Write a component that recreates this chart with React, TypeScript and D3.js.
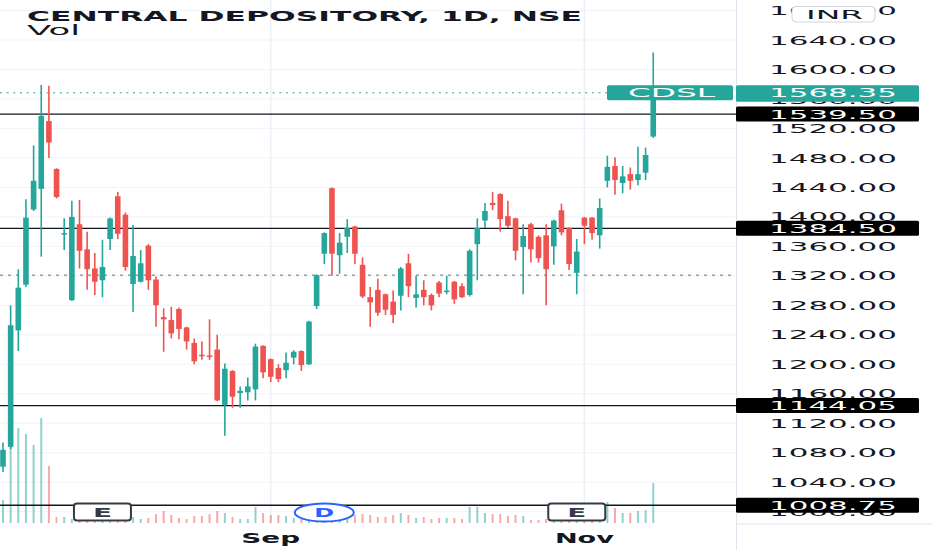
import React from "react";
import * as d3 from "d3";

const opens = [1061,1088,1246,1308,1410,1438,1530,1465,1376,1287,1390,1356,1330,1314,1370,1428,1403,1309,1312,1361,1315,1264,1260,1275,1250,1229,1213,1212,1220,1145,1191,1161,1162,1166,1225,1207,1195,1192,1209,1218,1200,1279,1350,1439,1348,1373,1387,1335,1291,1301,1295,1285,1293,1337,1290,1301,1294,1311,1298,1312,1306,1294,1363,1395,1419,1431,1401,1398,1359,1390,1373,1375,1360,1409,1385,1324,1399,1399,1375,1449,1469,1446,1458,1450,1460,1509];
const highs = [1094,1280,1329,1424,1497,1579,1578,1466,1398,1422,1423,1380,1351,1369,1399,1434,1406,1389,1355,1363,1319,1276,1278,1277,1251,1235,1231,1261,1240,1201,1192,1170,1182,1228,1226,1208,1200,1216,1219,1219,1259,1322,1379,1440,1378,1397,1388,1345,1305,1316,1296,1300,1332,1350,1320,1314,1296,1313,1320,1313,1310,1356,1398,1419,1434,1432,1422,1399,1390,1392,1375,1390,1396,1418,1386,1370,1400,1400,1425,1483,1481,1469,1467,1495,1494,1623];
const lows = [1054,1085,1218,1305,1408,1346,1480,1425,1355,1286,1330,1301,1294,1291,1355,1370,1327,1271,1311,1301,1251,1217,1235,1234,1220,1200,1206,1206,1150,1103,1141,1141,1151,1151,1181,1176,1176,1181,1200,1191,1199,1275,1336,1320,1323,1351,1336,1290,1251,1266,1267,1256,1273,1291,1277,1280,1273,1291,1295,1282,1290,1292,1314,1385,1409,1380,1385,1341,1295,1338,1338,1280,1335,1375,1328,1295,1363,1369,1357,1440,1430,1432,1437,1443,1450,1507];
const closes = [1084,1253,1304,1399,1449,1537,1501,1427,1378,1400,1354,1329,1312,1332,1398,1377,1332,1347,1337,1314,1280,1261,1242,1248,1231,1204,1211,1210,1151,1194,1156,1164,1170,1224,1189,1183,1180,1202,1217,1199,1258,1321,1378,1350,1365,1385,1350,1292,1284,1270,1274,1267,1330,1306,1295,1291,1280,1296,1300,1288,1291,1354,1385,1408,1416,1397,1388,1354,1374,1356,1344,1329,1395,1379,1336,1353,1388,1378,1412,1468,1450,1455,1449,1458,1484,1568.35];
const volumes = [23,95,95,89,78,105,57,6,6,4,3,3,4,3,3,4,3,6,4,5,9,12,8,5,4,7,7,9,12,10,6,4,4,16,10,8,8,7,5,4,6,8,6,9,5,4,8,9,8,6,6,8,10,8,5,6,4,5,5,5,4,16,16,10,9,9,7,8,7,3,3,4,4,3,4,3,3,4,6,21,15,10,10,12,13,40];

const priceTicks = [1000,1040,1080,1120,1160,1200,1240,1280,1320,1360,1400,1440,1480,1520,1560,1600,1640,1680];
const keyLevels = [1539.5, 1384.5, 1144.05, 1008.75];
const keyLabels = ["1539.50", "1384.50", "1144.05", "1008.75"];
const lastPrice = 1568.35;
const lastLabel = "1568.35";
const dashedLevel = 1321;
const timeIdx = [35, 76];
const timeText = ["Sep", "Nov"];
const eventIdx = [13, 42, 75];
const eventText = ["E", "D", "E"];
const symbol = "CDSL";
const title = "CENTRAL DEPOSITORY, 1D, NSE";

const W = 932, H = 550;
const PR = 736;
const UP = "#26a69a", DOWN = "#ef5350";
const FONT = "'DejaVu Sans', 'Liberation Sans', sans-serif";

export default function App() {
  const x = d3.scaleLinear().domain([0, 85]).range([3, 653.25]);
  const y = d3.scaleLinear().domain([1000, 1640]).range([511.7, 40]);
  const yv = d3.scaleLinear().domain([0, 100]).range([523, 423]);
  const bw = 5.6;
  const n = closes.length;
  const idx = d3.range(n);
  const lx = 769, lw = 128;

  return (
    <svg width={W} height={H} style={{ position: "absolute", left: 0, top: 0, background: "#fff" }}>
      <rect x={0} y={0} width={W} height={H} fill="#fff" />
      {priceTicks.map((t) => (
        <line key={"g" + t} x1={0} x2={PR} y1={y(t)} y2={y(t)} stroke="#f0f3fa" strokeWidth={1} />
      ))}
      {timeIdx.map((i) => (
        <line key={"v" + i} x1={x(i)} x2={x(i)} y1={0} y2={524} stroke="#eceff5" strokeWidth={1.5} />
      ))}
      {idx.map((i) => (
        <rect key={"vol" + i} x={x(i) - 1} y={yv(volumes[i])} width={2} height={523 - yv(volumes[i])}
          fill={closes[i] >= opens[i] ? UP : DOWN} fillOpacity={0.5} />
      ))}
      <line x1={0} x2={PR} y1={y(dashedLevel)} y2={y(dashedLevel)} stroke="#6a6d78" strokeWidth={1} strokeDasharray="3,5" />
      {keyLevels.map((k) => (
        <line key={"k" + k} x1={0} x2={PR} y1={y(k)} y2={y(k)} stroke="#131722" strokeWidth={1.3} />
      ))}
      <line x1={0} x2={607} y1={y(lastPrice)} y2={y(lastPrice)} stroke={UP} strokeWidth={1} strokeDasharray="2,4.65" />
      {idx.map((i) => {
        const up = closes[i] >= opens[i];
        const c = up ? UP : DOWN;
        const top = y(Math.max(opens[i], closes[i]));
        const bot = y(Math.min(opens[i], closes[i]));
        return (
          <g key={"c" + i}>
            <line x1={x(i)} x2={x(i)} y1={y(highs[i])} y2={y(lows[i])} stroke={c} strokeWidth={1.6} />
            <rect x={x(i) - bw / 2} y={top} width={bw} height={Math.max(1, bot - top)} fill={c} />
          </g>
        );
      })}
      {eventIdx.map((ei, k) => {
        const cx = x(ei);
        if (eventText[k] === "D") {
          return (
            <g key={"e" + k}>
              <ellipse cx={cx} cy={512.5} rx={29.5} ry={9} fill="#fff" stroke="#2962ff" strokeWidth={2} />
              <text x={cx - 10} y={517} fontFamily={FONT} fontWeight="bold" fontSize={12.5} fill="#2962ff"
                textLength={20} lengthAdjust="spacingAndGlyphs">D</text>
            </g>
          );
        }
        return (
          <g key={"e" + k}>
            <rect x={cx - 28.5} y={503.5} width={57} height={17} rx={3} fill="#fff" stroke="#363a45" strokeWidth={2} />
            <text x={cx - 9.5} y={516.5} fontFamily={FONT} fontWeight="bold" fontSize={12} fill="#363a45"
              textLength={19} lengthAdjust="spacingAndGlyphs">E</text>
          </g>
        );
      })}
      <rect x={607} y={y(lastPrice) - 7.5} width={126} height={15} rx={2} fill={UP} />
      <text x={628} y={y(lastPrice) + 4.5} fontFamily={FONT} fontSize={12} fill="#fff"
        textLength={87} lengthAdjust="spacingAndGlyphs">{symbol}</text>
      <line x1={PR + 0.5} x2={PR + 0.5} y1={0} y2={H} stroke="#e0e3eb" strokeWidth={1} />
      <line x1={PR} x2={W} y1={524} y2={524} stroke="#e0e3eb" strokeWidth={1} />
      {priceTicks.map((t) => (
        <text key={"t" + t} x={lx} y={y(t) + 4.6} fontFamily={FONT} fontSize={12.6} fill="#131722"
          textLength={lw} lengthAdjust="spacingAndGlyphs">{t.toFixed(2)}</text>
      ))}
      <rect x={PR} y={y(lastPrice) - 7.5} width={183} height={16.5} rx={1.5} fill={UP} />
      <text x={lx} y={y(lastPrice) + 4.6} fontFamily={FONT} fontSize={12.6} fill="#fff"
        textLength={lw} lengthAdjust="spacingAndGlyphs">{lastLabel}</text>
      {keyLevels.map((k, j) => (
        <g key={"kl" + k}>
          <rect x={PR} y={y(k) - 7.5} width={183} height={15} rx={1.5} fill="#000" />
          <text x={lx} y={y(k) + 4.6} fontFamily={FONT} fontSize={12.6} fill="#fff"
            textLength={lw} lengthAdjust="spacingAndGlyphs">{keyLabels[j]}</text>
        </g>
      ))}
      <rect x={792} y={6.5} width={83} height={15.5} rx={4} fill="#fff" stroke="#d1d4dc" strokeWidth={1} />
      <text x={806} y={18.8} fontFamily={FONT} fontSize={12.6} fill="#131722"
        textLength={57} lengthAdjust="spacingAndGlyphs">INR</text>
      <text x={27} y={20.5} fontFamily={FONT} fontWeight="bold" fontSize={14.5} fill="#131722"
        textLength={555} lengthAdjust="spacingAndGlyphs">{title}</text>
      <text x={27} y={35} fontFamily={FONT} fontSize={14} fill="#131722"
        textLength={53} lengthAdjust="spacingAndGlyphs">Vol</text>
      {timeIdx.map((i, k) => (
        <text key={"tl" + i} x={x(i) - 29.5} y={542.5} fontFamily={FONT} fontWeight="bold" fontSize={14}
          fill="#131722" textLength={59} lengthAdjust="spacingAndGlyphs">{timeText[k]}</text>
      ))}
    </svg>
  );
}
